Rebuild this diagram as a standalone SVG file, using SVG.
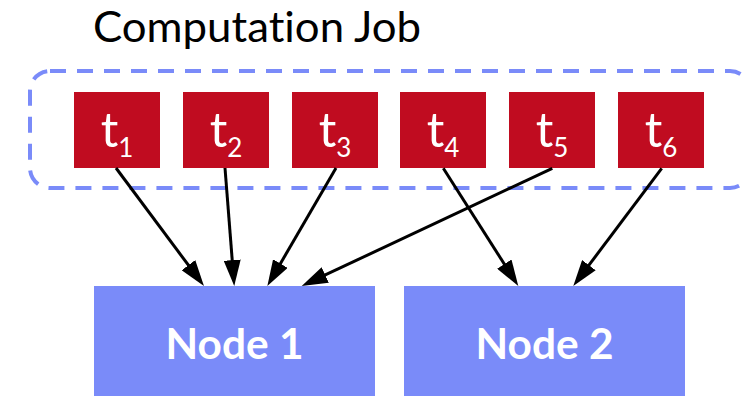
<svg xmlns="http://www.w3.org/2000/svg" width="743" height="396" viewBox="0 0 743 396">
  <style>
    .title { font-family: Lato, "Open Sans", sans-serif; font-size: 43px; fill: #000000; font-variant-ligatures: none; }
    .task rect { fill: #C00C20; }
    .task text { font-family: Lato, "Open Sans", sans-serif; font-size: 49px; fill: #FFFFFF; text-anchor: middle; }
    .task .sub { font-size: 26px; }
    .node rect { fill: #7A8BF9; }
    .node text { font-family: Lato, "Open Sans", sans-serif; font-weight: bold; font-size: 42px; fill: #FFFFFF; text-anchor: middle; }
    .job { fill: none; stroke: #7A8BF9; stroke-width: 4; stroke-dasharray: 16 11; }
    .edges line { stroke: #000000; stroke-width: 3; marker-end: url(#head); }
  </style>
  <defs>
    <marker id="head" markerUnits="userSpaceOnUse" markerWidth="26" markerHeight="17" refX="10" refY="8.5" orient="auto">
      <path d="M0,0 L26,8.5 L0,17 z" fill="#000000"/>
    </marker>
  </defs>

  <text class="title" x="93" y="42" textLength="328" lengthAdjust="spacingAndGlyphs">Computation Job</text>

  <!-- job boundary -->
  <rect class="job" x="30" y="71" width="720" height="117" rx="20" ry="20"/>

  <!-- tasks -->
  <g id="t1" class="task"><rect x="74" y="92" width="86" height="76"/><text x="117" y="147">t<tspan class="sub" dy="10">1</tspan></text></g>
  <g id="t2" class="task"><rect x="183" y="92" width="86" height="76"/><text x="226" y="147">t<tspan class="sub" dy="10">2</tspan></text></g>
  <g id="t3" class="task"><rect x="292" y="92" width="86" height="76"/><text x="335" y="147">t<tspan class="sub" dy="10">3</tspan></text></g>
  <g id="t4" class="task"><rect x="400" y="92" width="86" height="76"/><text x="443" y="147">t<tspan class="sub" dy="10">4</tspan></text></g>
  <g id="t5" class="task"><rect x="509" y="92" width="86" height="76"/><text x="552" y="147">t<tspan class="sub" dy="10">5</tspan></text></g>
  <g id="t6" class="task"><rect x="618" y="92" width="86" height="76"/><text x="661" y="147">t<tspan class="sub" dy="10">6</tspan></text></g>

  <!-- worker nodes -->
  <g id="node1" class="node"><rect x="94" y="286" width="281" height="110"/><text x="234.5" y="359" textLength="138" lengthAdjust="spacingAndGlyphs">Node 1</text></g>
  <g id="node2" class="node"><rect x="404" y="286" width="281" height="110"/><text x="544.5" y="359" textLength="138" lengthAdjust="spacingAndGlyphs">Node 2</text></g>

  <!-- task assignments -->
  <g id="edges" class="edges">
    <line x1="116" y1="168" x2="194.4" y2="273.2"/>
    <line x1="225" y1="168" x2="233.0" y2="270.1"/>
    <line x1="336" y1="168" x2="275.4" y2="272.2"/>
    <line x1="552.3" y1="168.3" x2="316.2" y2="279.2"/>
    <line x1="443.3" y1="168.3" x2="509.7" y2="272.5"/>
    <line x1="661.7" y1="168.3" x2="582.9" y2="273.2"/>
  </g>
</svg>
